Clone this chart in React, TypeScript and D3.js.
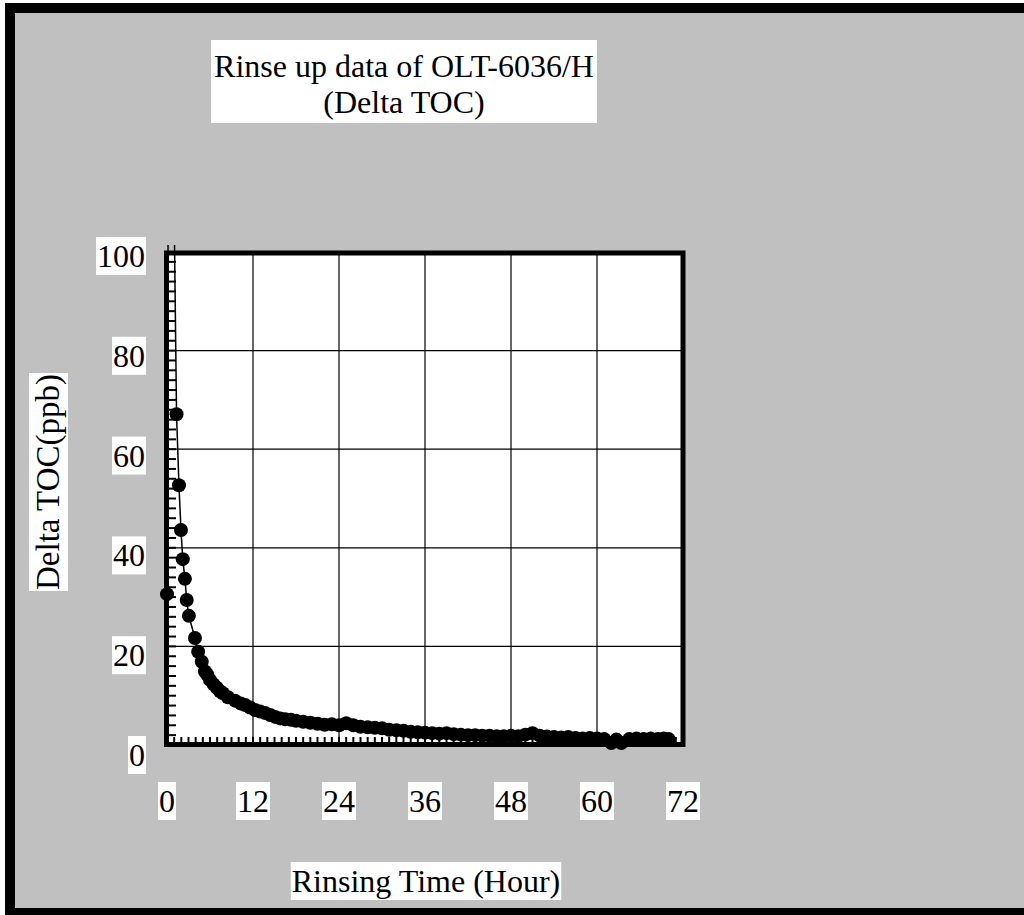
import * as d3 from "d3";
import { useEffect, useRef } from "react";

// Rinse-up readings, hours vs delta TOC (ppb)
const hours = [
    0, 0.33, 1.33, 1.67, 1.95, 2.2, 2.5, 2.75, 3.05, 3.9, 4.35, 4.85, 5.3,
    5.6, 6.0, 6.5, 6.95, 7.4, 7.8, 8.5, 9.5, 10.3, 10.9, 11.6, 12.3, 13.0,
    13.7, 14.4, 15.1, 15.8, 16.5, 17.3, 18, 19, 20, 21, 22, 23, 24, 25, 26,
    27, 28, 29, 30, 31, 32, 33, 34, 35, 36, 37, 38, 39, 40, 41, 42, 43, 44,
    45, 46, 47, 48, 49, 50, 51, 52, 53, 54, 55, 56, 57, 58, 59, 60, 61, 62,
    62.7, 63.4, 64.5, 65.5, 66.5, 67.5, 68.5, 69.3, 70,
];
const deltaToc = [
    30.6, 190, 67.1, 52.7, 43.6, 37.7, 33.7, 29.4, 26.2, 21.7, 18.9, 16.9,
    14.9, 14.3, 13.2, 12.3, 11.6, 10.9, 10.5, 9.7, 9.0, 8.4, 8.1, 7.6, 7.1,
    6.8, 6.5, 6.1, 5.7, 5.4, 5.2, 5.1, 4.9, 4.7, 4.5, 4.3, 4.1, 4.2, 4.0, 4.4,
    4.0, 3.7, 3.6, 3.5, 3.4, 3.1, 3.0, 2.9, 2.7, 2.6, 2.5, 2.4, 2.3, 2.4, 2.2,
    2.1, 2.0, 2.0, 1.9, 1.9, 1.8, 1.8, 1.9, 1.8, 2.1, 2.4, 1.9, 1.7, 1.6, 1.5,
    1.6, 1.4, 1.3, 1.4, 1.3, 1.2, 0.4, 1.1, 0.4, 1.2, 1.3, 1.2, 1.3, 1.2, 1.3,
    1.2,
];

const xTicks = [0, 12, 24, 36, 48, 60, 72];
const yTicks = [0, 20, 40, 60, 80, 100];
const titleLines = ["Rinse up data of OLT-6036/H", "(Delta TOC)"];
const xTitle = "Rinsing Time (Hour)";
const yTitle = "Delta TOC(ppb)";

const FONT = "'Liberation Serif', 'Times New Roman', serif";
const FS = 32;

const App = () => {
    const svgRef = useRef<SVGSVGElement | null>(null);

    const dimensions = { width: 1024, height: 915 };
    const plot = { left: 167, right: 683, top: 252, bottom: 745 };

    useEffect(() => {
        const svg = d3.select(svgRef.current);
        svg.selectAll("*").remove();

        const points = hours.map((h, i) => ({ h, v: deltaToc[i] }));

        const xScale = d3.scaleLinear().domain([0, 72]).range([plot.left, plot.right]);
        const yScale = d3.scaleLinear().domain([0, 100]).range([plot.bottom, plot.top]);
        // labels on the value axis sit a little lower than the grid
        const yLabelScale = d3.scaleLinear().domain([0, 100]).range([766, 267]);

        const addText = (parent: any, text: string, x: number, y: number, anchor: string, size = FS) =>
            parent
                .append("text")
                .attr("x", x)
                .attr("y", y)
                .attr("text-anchor", anchor)
                .attr("font-family", FONT)
                .attr("font-size", size)
                .attr("fill", "#000")
                .text(text);

        // white box behind a group of texts
        const boxBehind = (parent: any, nodes: SVGTextElement[], pad = [1, 0, 1, 0]) => {
            const boxes = nodes.map((n) => n.getBBox());
            const x0 = d3.min(boxes, (b) => b.x)! - pad[3];
            const y0 = d3.min(boxes, (b) => b.y)! - pad[0];
            const x1 = d3.max(boxes, (b) => b.x + b.width)! + pad[1];
            const y1 = d3.max(boxes, (b) => b.y + b.height)! + pad[2];
            parent
                .insert("rect", () => nodes[0])
                .attr("x", x0)
                .attr("y", y0)
                .attr("width", x1 - x0)
                .attr("height", y1 - y0)
                .attr("fill", "#fff");
        };

        const label = (parent: any, text: string, x: number, y: number, anchor: string, size = FS) => {
            const t = addText(parent, text, x, y, anchor, size);
            boxBehind(parent, [t.node()], [1, 1, 1, 1]);
        };

        // background + frame
        svg.append("rect").attr("width", dimensions.width).attr("height", dimensions.height).attr("fill", "#fff");
        svg.append("rect").attr("x", 5).attr("y", 3).attr("width", 1030).attr("height", 920).attr("fill", "#000");
        svg.append("rect").attr("x", 15).attr("y", 13).attr("width", 1020).attr("height", 895).attr("fill", "#c0c0c0");

        // title
        const title = svg.append("g");
        const t1 = addText(title, titleLines[0], 404, 77, "middle");
        const t2 = addText(title, titleLines[1], 404, 113, "middle");
        boxBehind(title, [t1.node(), t2.node()], [8, 3, 3, 3]);

        // plot area
        svg.append("rect")
            .attr("x", plot.left)
            .attr("y", plot.top)
            .attr("width", plot.right - plot.left)
            .attr("height", plot.bottom - plot.top)
            .attr("fill", "#fff");

        const grid = svg.append("g").attr("stroke", "#000").attr("stroke-width", 1.2);
        grid.selectAll(".vx")
            .data(xTicks)
            .join("line")
            .attr("x1", (d) => xScale(d))
            .attr("x2", (d) => xScale(d))
            .attr("y1", plot.top)
            .attr("y2", plot.bottom);
        grid.selectAll(".hy")
            .data(yTicks)
            .join("line")
            .attr("x1", plot.left)
            .attr("x2", plot.right)
            .attr("y1", (d) => yScale(d))
            .attr("y2", (d) => yScale(d));

        // minor ticks
        const minor = svg.append("g").attr("stroke", "#000").attr("stroke-width", 2);
        minor.selectAll(".my")
            .data(d3.range(0, 101, 2))
            .join("line")
            .attr("x1", plot.left)
            .attr("x2", plot.left + 9)
            .attr("y1", (d) => yScale(d))
            .attr("y2", (d) => yScale(d));
        minor.selectAll(".mx")
            .data(d3.range(0, 73, 1))
            .join("line")
            .attr("x1", (d) => xScale(d))
            .attr("x2", (d) => xScale(d))
            .attr("y1", plot.bottom)
            .attr("y2", plot.bottom - 8);

        // series
        svg.append("clipPath")
            .attr("id", "plot-clip")
            .append("rect")
            .attr("x", plot.left - 15)
            .attr("y", plot.top - 7)
            .attr("width", plot.right - plot.left + 30)
            .attr("height", plot.bottom - plot.top + 25);

        const series = svg.append("g").attr("clip-path", "url(#plot-clip)");

        const line = d3
            .line<{ h: number; v: number }>()
            .x((d) => xScale(d.h))
            .y((d) => yScale(d.v));

        series.append("path")
            .datum(points)
            .attr("d", line)
            .attr("fill", "none")
            .attr("stroke", "#000")
            .attr("stroke-width", 1.5);

        series.selectAll("circle")
            .data(points)
            .join("circle")
            .attr("cx", (d) => xScale(d.h))
            .attr("cy", (d) => yScale(d.v))
            .attr("r", 7)
            .attr("fill", "#000");

        // frame of the plot
        svg.append("rect")
            .attr("x", plot.left - 0.5)
            .attr("y", plot.top + 1)
            .attr("width", plot.right - plot.left + 0.5)
            .attr("height", plot.bottom - plot.top - 1.5)
            .attr("fill", "none")
            .attr("stroke", "#000")
            .attr("stroke-width", 5);

        // tick labels
        const labels = svg.append("g");
        xTicks.forEach((t) => label(labels, String(t), xScale(t), 812, "middle"));
        yTicks.forEach((t) => label(labels, String(t), 145, yLabelScale(t), "end"));

        // axis titles
        label(svg, xTitle, 426, 892, "middle");
        const yt = svg.append("g").attr("transform", "translate(59, 482) rotate(-90)");
        label(yt, yTitle, 0, 0, "middle", 33);
    }, []);

    return (
        <div style={{ position: "absolute", left: 0, top: 0 }}>
            <svg ref={svgRef} width={dimensions.width} height={dimensions.height} style={{ display: "block" }} />
        </div>
    );
};

export default App;
